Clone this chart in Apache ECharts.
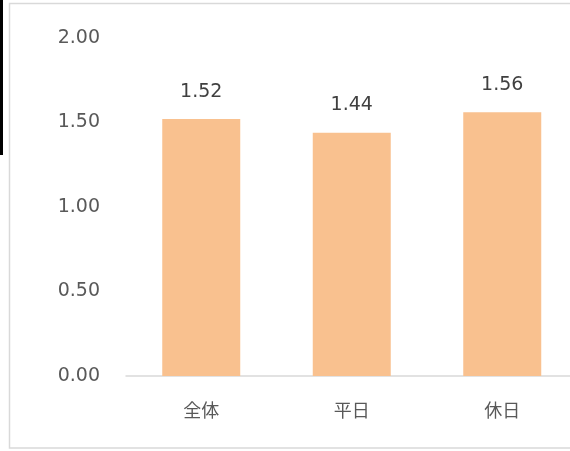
<!DOCTYPE html>
<html><head><meta charset="utf-8">
<script src="https://cdn.jsdelivr.net/npm/echarts@6/dist/echarts.min.js"></script>
<style>html,body{margin:0;padding:0;background:#fff;overflow:hidden;width:570px;height:451px}#c{width:580px;height:451px}</style>
</head><body><div id="c"></div>
<script>
const categories = ['全体', '平日', '休日'];
const values = [1.52, 1.44, 1.56];
const yTicks = [0, 0.5, 1.0, 1.5, 2.0];

const chart = echarts.init(document.getElementById('c'));
const FONT = '"DejaVu Sans", "Noto Sans CJK JP", sans-serif';
chart.setOption({
  animation: false,
  backgroundColor: '#fff',
  graphic: [
    { type: 'rect', shape: { x: 9.5, y: 3.5, width: 600, height: 444.5 }, style: { fill: 'none', stroke: '#d9d9d9', lineWidth: 1.5 } },
    { type: 'rect', shape: { x: 0, y: 0, width: 3, height: 155 }, style: { fill: '#000' } }
  ],
  grid: { left: 126, width: 451.5, top: 38, height: 338 },
  xAxis: {
    type: 'category', data: categories,
    axisLine: { lineStyle: { color: '#d9d9d9', width: 1.5 } },
    axisTick: { show: false },
    axisLabel: { color: '#595959', fontSize: 18, fontFamily: FONT, margin: 27 }
  },
  yAxis: {
    type: 'value', min: yTicks[0], max: yTicks[yTicks.length - 1], interval: 0.5,
    axisLine: { show: false }, axisTick: { show: false }, splitLine: { show: false },
    axisLabel: { color: '#595959', fontSize: 19, fontFamily: FONT, margin: 26,
      formatter: v => v.toFixed(2) }
  },
  series: [{
    type: 'bar', data: values, barWidth: 78,
    itemStyle: { color: '#F9C18F' },
    label: { show: true, position: 'top', distance: 18, color: '#404040', fontSize: 19, fontFamily: FONT,
      formatter: p => p.value.toFixed(2) }
  }]
});
</script></body></html>
